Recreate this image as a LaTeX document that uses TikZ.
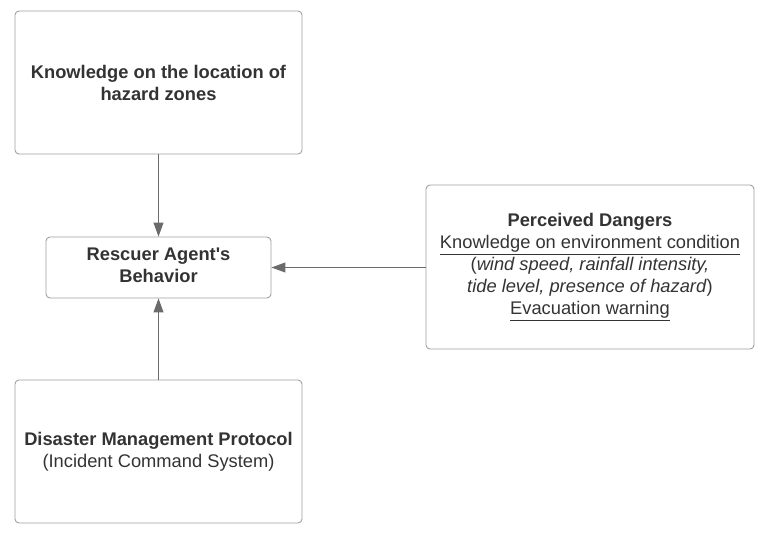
\documentclass[tikz,border=0pt]{standalone}
\usepackage{fontspec}
\setmainfont{Liberation Sans}
\usetikzlibrary{arrows.meta}
\definecolor{txt}{HTML}{333333}
\definecolor{bord}{HTML}{A0A0A0}
\definecolor{conn}{HTML}{6B6B6B}
\tikzset{
  box/.style={draw=bord, line width=0.9pt, rounded corners=4pt, align=center, text=txt,
    font=\fontsize{18.3}{22}\selectfont, inner sep=0pt},
  conn/.style={draw=conn, line width=1pt, -{Triangle[length=14pt,width=10pt]}}
}
\newcommand{\ul}[1]{\underline{#1}}
\begin{document}
\begin{tikzpicture}[x=1pt,y=-1pt]
\useasboundingbox (0,0) rectangle (770,540);
\node[box, minimum width=287pt, minimum height=143pt] (know) at (158.5,82.5)
  {\textbf{Knowledge on the location of}\\\textbf{hazard zones}};
\node[box, minimum width=225pt, minimum height=61pt] (resc) at (158.5,267.5)
  {\textbf{Rescuer Agent\textquotesingle s}\\\textbf{Behavior}\vphantom{g}};
\node[box, minimum width=328pt, minimum height=164pt] (perc) at (590,267)
  {\textbf{Perceived Dangers}\\\ul{Knowledge on environment condition}\\(\textit{wind speed, rainfall intensity,}\\\textit{tide level, presence of hazard})\\\ul{Evacuation warning}};
\node[box, minimum width=287pt, minimum height=143pt] (dis) at (158.5,451.5)
  {\textbf{Disaster Management Protocol}\\(Incident Command System)};
\draw[conn] (know.south) -- (resc.north);
\draw[conn] (dis.north) -- (resc.south);
\draw[conn] (perc.west |- resc.east) -- (resc.east);
\end{tikzpicture}
\end{document}
